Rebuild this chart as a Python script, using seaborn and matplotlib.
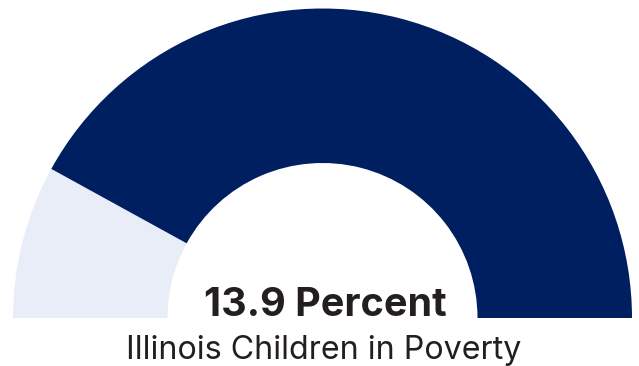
import seaborn as sns
import matplotlib.pyplot as plt

# gauge data (share of the half circle)
segments = ["Children in poverty", "Other"]
gauge_share = [16, 84]
headline_value = 13.9
headline = f"{headline_value} Percent"
subtitle = "Illinois Children in Poverty"
colors = ["#E8EDF8", "#001F60"]

sns.set_theme(style="white")
plt.rcParams["font.family"] = ["Inter", "DejaVu Sans"]

fig = plt.figure(figsize=(6.39, 3.66), dpi=100)
ax = fig.add_axes([0, 0, 1, 1])

# half donut: bottom half is an invisible wedge
values = gauge_share + [sum(gauge_share)]
ax.pie(values, colors=colors + ["none"], startangle=180, counterclock=False,
       radius=309.5, center=(322.5, 48),
       wedgeprops=dict(width=154.5, linewidth=0))

ax.set_xlim(0, 639)
ax.set_ylim(0, 366)
ax.set_aspect("equal")
ax.axis("off")

ax.text(325, 49.5, headline, ha="center", va="baseline", fontsize=28.5,
        fontweight="bold", color="#231F20")
ax.text(323.5, 7.5, subtitle, ha="center", va="baseline", fontsize=23.2,
        color="#231F20")

fig.savefig("out.png", dpi=100)
